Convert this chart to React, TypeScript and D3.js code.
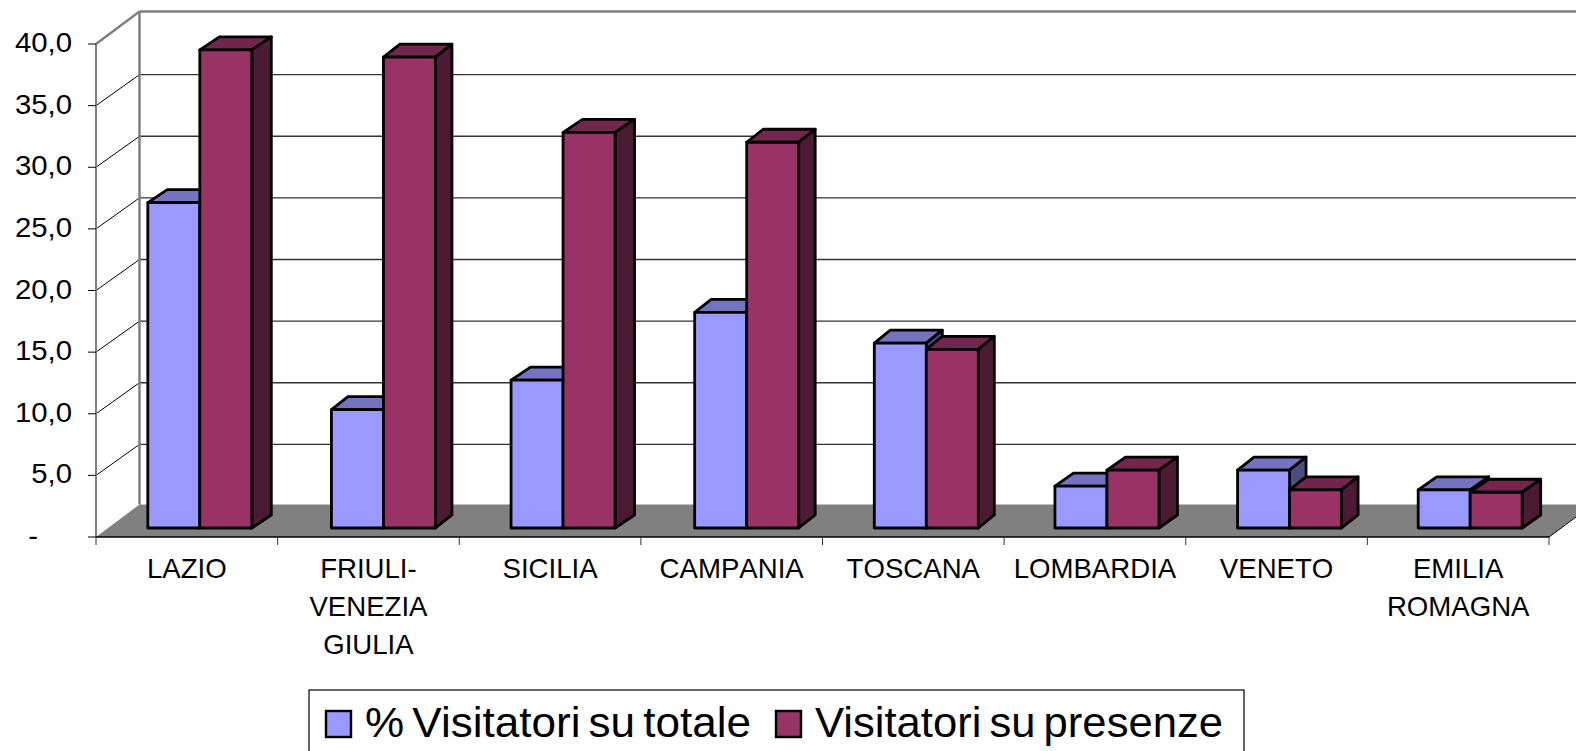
import React from "react";
import * as d3 from "d3";

const categories = ["LAZIO", "FRIULI-VENEZIA GIULIA", "SICILIA", "CAMPANIA", "TOSCANA", "LOMBARDIA", "VENETO", "EMILIA ROMAGNA"];
const categoryLines = [["LAZIO"], ["FRIULI-", "VENEZIA", "GIULIA"], ["SICILIA"], ["CAMPANIA"], ["TOSCANA"], ["LOMBARDIA"], ["VENETO"], ["EMILIA", "ROMAGNA"]];
const visitatoriTotale = [26.4, 9.6, 12.0, 17.5, 15.0, 3.4, 4.7, 3.1];
const visitatoriPresenze = [38.8, 38.2, 32.1, 31.3, 14.5, 4.7, 3.1, 2.9];
const tickValues = [0, 5, 10, 15, 20, 25, 30, 35, 40];
const tickLabels = ["-", "5,0", "10,0", "15,0", "20,0", "25,0", "30,0", "35,0", "40,0"];

const FONT = "'Liberation Sans', Arial, sans-serif";
const DX = 43.5, DY = 32.5;
const y = d3.scaleLinear().domain([0, 40]).range([537, 44]);
const x = d3.scaleBand<string>().domain(categories).range([96, 1549]);
const BAR_W = 52, BAR_DY = 13, LIFT = 9, SHIFT = 13;
// the source renderer snaps each cluster to its own pixel offset and depth
const clusterNudge = [0, 2, 0, 2, 0, -1, 0, -1];
const clusterDepth = [19.5, 16.5, 19.5, 16.5, 16, 18.5, 16.5, 18.5];

const Bar = ({ x0, v, dx, front, top, side }: { x0: number; v: number; dx: number; front: string; top: string; side: string }) => {
  const base = y(0) - LIFT;
  const t = y(v) - LIFT;
  const x1 = x0 + BAR_W;
  const pts = (p: number[][]) => p.map((q) => q.join(",")).join(" ");
  const common = { stroke: "#000", strokeWidth: 2.8, strokeLinejoin: "round" as const };
  return (
    <g>
      <polygon points={pts([[x0, t], [x0 + dx, t - BAR_DY], [x1 + dx, t - BAR_DY], [x1, t]])} fill={top} {...common} />
      <polygon points={pts([[x1, t], [x1 + dx, t - BAR_DY], [x1 + dx, base - BAR_DY], [x1, base]])} fill={side} {...common} />
      <rect x={x0} y={t} width={BAR_W} height={base - t} fill={front} {...common} />
    </g>
  );
};

export default function App() {
  const W = 1576, H = 751;
  const bw = x.bandwidth();
  const backY = (t: number) => y(t) - DY + (t === 40 ? 0 : 1.5);
  return (
    <svg width={W} height={H} viewBox={`0 0 ${W} ${H}`} style={{ position: "absolute", left: 0, top: 0, background: "#fff" }} fontFamily={FONT}>
      {/* floor */}
      <polygon points={`96,${y(0)} ${96 + DX},${y(0) - DY} ${1549 + DX},${y(0) - DY} 1549,${y(0)}`} fill="#808080" />
      {/* grid */}
      {tickValues.map((t) => t > 0 && (
        <g key={t}>
          <line x1={96} y1={y(t)} x2={96 + DX} y2={backY(t)} stroke={t === 40 ? "#808080" : "#000"} strokeWidth={t === 40 ? 2.5 : 1} />
          <line x1={96 + DX} y1={backY(t)} x2={W} y2={backY(t)} stroke={t === 40 ? "#808080" : "#333"} strokeWidth={t === 40 ? 2.5 : 1.4} />
        </g>
      ))}
      {/* walls */}
      <line x1={96 + DX} y1={y(40) - DY} x2={96 + DX} y2={y(0) - DY} stroke="#808080" strokeWidth={2.5} />
      <line x1={96} y1={y(40)} x2={96} y2={y(0)} stroke="#808080" strokeWidth={2} />
      {/* axes */}
      <line x1={96} y1={y(0)} x2={1549} y2={y(0)} stroke="#000" strokeWidth={1.4} />
      {categories.map((c) => (
        <line key={c} x1={x(c)!} y1={y(0)} x2={x(c)!} y2={y(0) + 8} stroke="#333" strokeWidth={1} />
      ))}
      <line x1={1549} y1={y(0)} x2={1549} y2={y(0) + 8} stroke="#333" strokeWidth={1} />
      <line x1={1549} y1={y(0)} x2={W} y2={y(0) - 20} stroke="#000" strokeWidth={1} />
      {tickValues.map((t, i) => (
        <g key={t}>
          <line x1={88} y1={y(t)} x2={96} y2={y(t)} stroke="#000" strokeWidth={1} />
          <text transform={`translate(${t === 0 ? 38 : 72},${y(t) + 8}) scale(1.03,1)`} textAnchor="end" fontSize={28.5} fill="#000">{tickLabels[i]}</text>
        </g>
      ))}
      {/* bars */}
      {categories.map((c, i) => {
        const x0 = x(c)! + (bw - 2 * BAR_W) / 2 + SHIFT + clusterNudge[i];
        const dx = clusterDepth[i];
        return (
          <g key={c}>
            <Bar x0={x0} v={visitatoriTotale[i]} dx={dx} front="#9999FF" top="#7373BF" side="#4D4D80" />
            <Bar x0={x0 + BAR_W} v={visitatoriPresenze[i]} dx={dx} front="#993366" top="#73264D" side="#4D1A33" />
          </g>
        );
      })}
      {/* category labels */}
      {categories.map((c, i) => (
        <text key={c} textAnchor="middle" fontSize={27.6} fill="#000" style={{ fontKerning: "none" }}>
          {categoryLines[i].map((l, j) => (
            <tspan key={j} x={x(c)! + bw / 2} y={578 + j * 38}>{l}</tspan>
          ))}
        </text>
      ))}
      {/* legend */}
      <rect x={309} y={690} width={935} height={70} fill="#fff" stroke="#000" strokeWidth={1.2} />
      <rect x={326} y={711} width={25} height={26} fill="#9999FF" stroke="#000" strokeWidth={2.4} />
      <text x={365} y={737} fontSize={43} wordSpacing={-4} textLength={386} lengthAdjust="spacingAndGlyphs" fill="#000">% Visitatori su totale</text>
      <rect x={776} y={711} width={25} height={26} fill="#993366" stroke="#000" strokeWidth={2.4} />
      <text x={815} y={737} fontSize={43} wordSpacing={-4} textLength={408} lengthAdjust="spacingAndGlyphs" fill="#000">Visitatori su presenze</text>
    </svg>
  );
}
